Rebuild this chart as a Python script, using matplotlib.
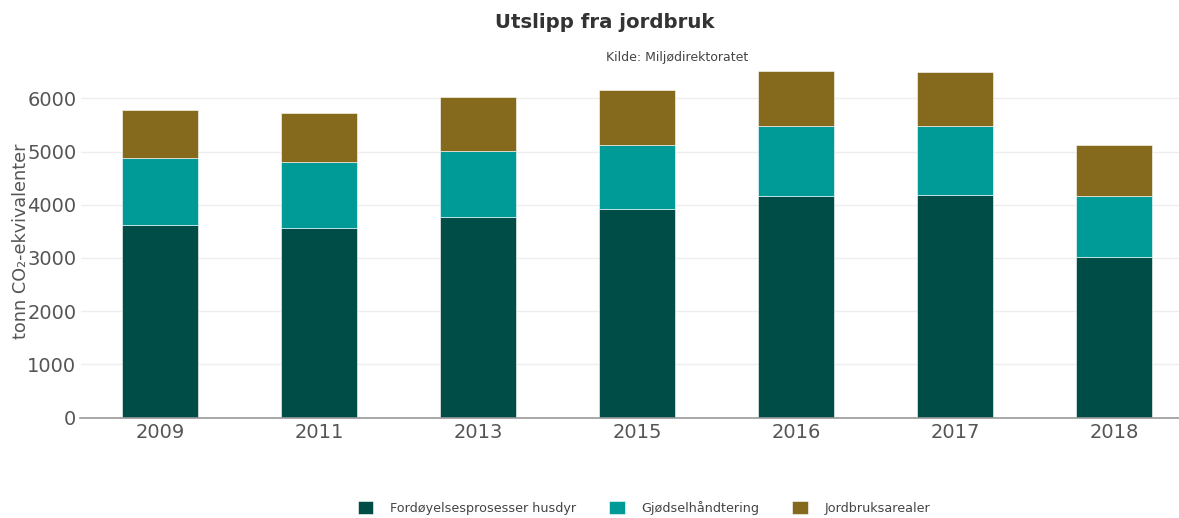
import numpy as np
import matplotlib.pyplot as plt

years = ["2009", "2011", "2013", "2015", "2016", "2017", "2018"]
husdyr = [3624, 3562, 3763, 3919, 4164, 4182, 3023]
gjodsel = [1254, 1246, 1246, 1203, 1321, 1303, 1141]
arealer = [896, 916, 1010, 1034, 1028, 1004, 958]

series = [
    ("Fordøyelsesprosesser husdyr", husdyr, "#004c46"),
    ("Gjødselhåndtering", gjodsel, "#009b97"),
    ("Jordbruksarealer", arealer, "#856a1e"),
]


def main():
    fig = plt.figure(figsize=(11.79, 5.18), dpi=100)
    ax = fig.add_axes([80.5 / 1179, 100.5 / 518, 1113 / 1179, 352 / 518])

    x = np.arange(len(years))
    bottom = np.zeros(len(years))
    for name, vals, col in series:
        ax.bar(x, vals, width=0.48, bottom=bottom, color=col, label=name,
               edgecolor="white", linewidth=0.4)
        bottom += np.array(vals)

    ax.set_xlim(-0.5, len(years) - 0.5)
    ax.set_ylim(0, 6620)
    ax.set_yticks(range(0, 7000, 1000))
    ax.set_xticks(x)
    ax.set_xticklabels(years)
    ax.tick_params(axis="both", labelsize=14, colors="#555555", length=0)
    ax.tick_params(axis="x", pad=4)
    ax.tick_params(axis="y", pad=3)
    ax.yaxis.grid(True, color="#eeeeee", linewidth=1)
    ax.set_axisbelow(True)
    for s in ["top", "right", "left"]:
        ax.spines[s].set_visible(False)
    ax.spines["bottom"].set_color("#999999")
    ax.spines["bottom"].set_linewidth(1.2)

    ax.set_ylabel("tonn CO₂-ekvivalenter", fontsize=12.7, color="#555555", labelpad=-2)

    fig.text(605 / 1179, 1 - 22 / 518, "Utslipp fra jordbruk", ha="center", va="center",
             fontsize=14.2, fontweight="bold", color="#333333")
    fig.text(677 / 1179, 1 - 57 / 518, "Kilde: Miljødirektoratet", ha="center", va="center",
             fontsize=9, color="#444444")

    fig.legend(loc="center", bbox_to_anchor=(644 / 1179, 1 - 508 / 518), ncol=3,
               frameon=False, fontsize=9.2, handlelength=1.2, handleheight=1.2,
               columnspacing=2.6, handletextpad=1.3, labelcolor="#444444")

    fig.savefig("out.png", dpi=100)


if __name__ == "__main__":
    main()
